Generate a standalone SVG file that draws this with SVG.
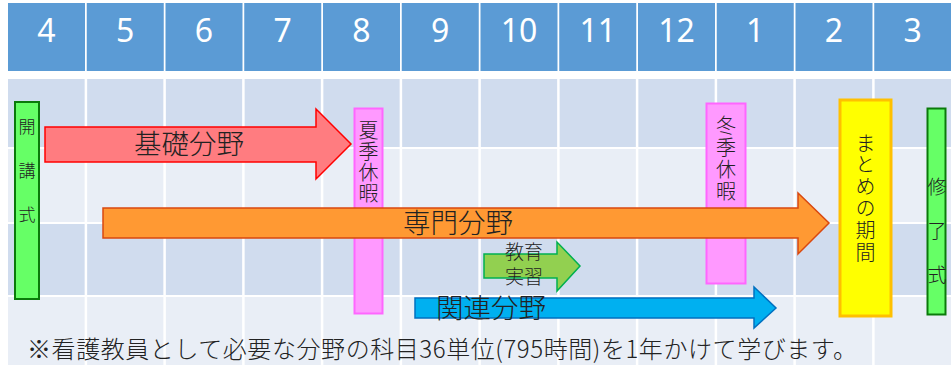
<svg xmlns="http://www.w3.org/2000/svg" width="951" height="365" viewBox="0 0 951 365">
<style>
.hd{fill:#5B9BD5}
.b1{fill:#D0DCEE}
.b2{fill:#E9EEF6}
.num{font-family:"Noto Sans","Noto Sans CJK JP",sans-serif;font-size:32px;fill:#fff;text-anchor:middle}
.jp{font-family:"Noto Sans CJK JP",sans-serif;font-weight:300;fill:#222;text-anchor:middle}
.vt{font-family:"Noto Sans CJK JP",sans-serif;font-weight:300;fill:#222;writing-mode:vertical-rl}
.big{font-size:27.5px}
</style>
<rect width="951" height="365" fill="#fff"/>
<g id="grid">
<g id="header">
<rect class="hd" x="8" y="3" width="77" height="68"/>
<rect class="hd" x="86.75" y="3" width="77" height="68"/>
<rect class="hd" x="165.5" y="3" width="77" height="68"/>
<rect class="hd" x="244.25" y="3" width="77" height="68"/>
<rect class="hd" x="323" y="3" width="77" height="68"/>
<rect class="hd" x="401.75" y="3" width="77" height="68"/>
<rect class="hd" x="480.5" y="3" width="77" height="68"/>
<rect class="hd" x="559.25" y="3" width="77" height="68"/>
<rect class="hd" x="638" y="3" width="77" height="68"/>
<rect class="hd" x="716.75" y="3" width="77" height="68"/>
<rect class="hd" x="795.5" y="3" width="77" height="68"/>
<rect class="hd" x="874.25" y="3" width="77" height="68"/>
<text class="num" x="46.5" y="41.5">4</text>
<text class="num" x="125.25" y="41.5">5</text>
<text class="num" x="204" y="41.5">6</text>
<text class="num" x="282.75" y="41.5">7</text>
<text class="num" x="361.5" y="41.5">8</text>
<text class="num" x="440.25" y="41.5">9</text>
<text class="num" x="519" y="41.5">10</text>
<text class="num" x="597.75" y="41.5">11</text>
<text class="num" x="676.5" y="41.5">12</text>
<text class="num" x="755.25" y="41.5">1</text>
<text class="num" x="834" y="41.5">2</text>
<text class="num" x="912.75" y="41.5">3</text>
</g>
<g id="body">
<rect class="b1" x="8" y="79" width="943" height="68"/>
<rect class="b2" x="8" y="149" width="943" height="73"/>
<rect class="b1" x="8" y="224" width="943" height="71"/>
<rect class="b2" x="8" y="297" width="943" height="68"/>
<g stroke="#fff" stroke-width="2.5">
<line x1="85.9" y1="79" x2="85.9" y2="365"/>
<line x1="164.6" y1="79" x2="164.6" y2="365"/>
<line x1="243.4" y1="79" x2="243.4" y2="365"/>
<line x1="322.1" y1="79" x2="322.1" y2="365"/>
<line x1="400.9" y1="79" x2="400.9" y2="365"/>
<line x1="479.6" y1="79" x2="479.6" y2="365"/>
<line x1="558.4" y1="79" x2="558.4" y2="365"/>
<line x1="637.1" y1="79" x2="637.1" y2="365"/>
<line x1="715.9" y1="79" x2="715.9" y2="365"/>
<line x1="794.6" y1="79" x2="794.6" y2="365"/>
<line x1="873.4" y1="79" x2="873.4" y2="365"/>
</g>
</g>
</g>
<g id="opening">
<rect x="15" y="102" width="24" height="197" fill="#66FF66" stroke="#0A7A0A" stroke-width="2"/>
<text class="vt" font-size="17" letter-spacing="27" x="27" y="118">開講式</text>
</g>
<g id="summer">
<rect x="354.5" y="108.5" width="28" height="205" fill="#FF99FF" stroke="#FF66FF" stroke-width="2"/>
<text class="vt" font-size="20" letter-spacing="1" x="368.5" y="120">夏季休暇</text>
</g>
<g id="winter">
<rect x="706.5" y="103.5" width="39" height="180" fill="#FF99FF" stroke="#FF66FF" stroke-width="2"/>
<text class="vt" font-size="20" letter-spacing="2" x="726" y="115">冬季休暇</text>
</g>
<g id="summary">
<rect x="840" y="100" width="51" height="216" fill="#FFFF00" stroke="#FFC000" stroke-width="3"/>
<text class="vt" font-size="20" letter-spacing="1.8" x="865.5" y="133">まとめの期間</text>
</g>
<g id="completion">
<rect x="927.5" y="108.5" width="18" height="206" fill="#66FF66" stroke="#0A7A0A" stroke-width="2"/>
<text class="vt" font-size="19" letter-spacing="25" x="937" y="177.5">修了式</text>
</g>
<g id="connectors">
<g id="basic">
<path d="M45,127 L316,127 L316,109 L351,144 L316,179 L316,162 L45,162 Z" fill="#FF7C80" stroke="#FF0000" stroke-width="1.5"/>
<text class="jp big" x="189" y="153.5">基礎分野</text>
</g>
<g id="specialized">
<path d="M103,208 L798,208 L798,193 L829,223 L798,254 L798,238 L103,238 Z" fill="#FF9933" stroke="#D9480F" stroke-width="1.5"/>
<text class="jp big" x="458" y="232.5">専門分野</text>
</g>
<g id="practice">
<path d="M484,254 L557,254 L557,242 L580,266 L557,291 L557,278 L484,278 Z" fill="#92D050" stroke="#00B050" stroke-width="1.5"/>
<text class="jp" font-size="19" x="524" y="259">教育</text>
<text class="jp" font-size="19" x="524" y="284">実習</text>
</g>
<g id="related">
<path d="M415,298 L754,298 L754,287 L776,308 L754,328 L754,318 L415,318 Z" fill="#00B0F0" stroke="#0070C0" stroke-width="1.5"/>
<text class="jp big" x="491" y="318">関連分野</text>
</g>
</g>
<text font-family="'Noto Sans CJK JP',sans-serif" font-weight="300" font-size="24" fill="#222" x="27" y="358" textLength="830" lengthAdjust="spacing">※看護教員として必要な分野の科目36単位(795時間)を1年かけて学びます。</text>
</svg>
